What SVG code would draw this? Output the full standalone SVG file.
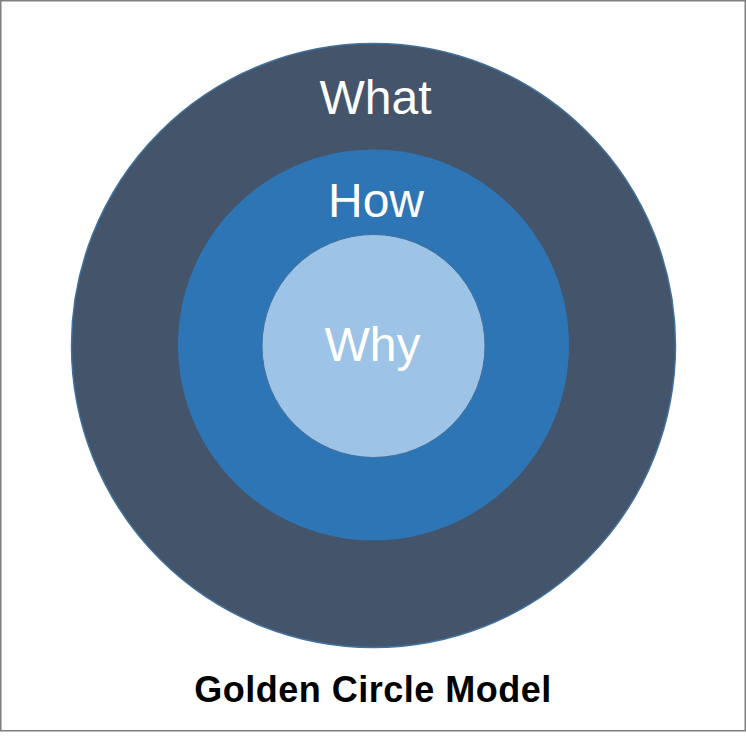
<svg xmlns="http://www.w3.org/2000/svg" width="746" height="736" viewBox="0 0 746 736">
<style>
.lbl{font-family:"Liberation Sans",Arial,sans-serif;font-size:48px;fill:#ffffff;text-anchor:middle}
.title{font-family:"Liberation Sans",Arial,sans-serif;font-size:36px;font-weight:bold;fill:#000000;text-anchor:middle;letter-spacing:0.5px}
</style>
<rect x="0.75" y="0.75" width="744.5" height="730" fill="#ffffff" stroke="#7f7f7f" stroke-width="1.5"/>
<g id="what">
<circle cx="373.5" cy="345.5" r="302" fill="#44546a" stroke="#41719c" stroke-width="1.5"/>
<text class="lbl" x="375.5" y="114">What</text>
</g>
<g id="how">
<circle cx="373.5" cy="345" r="195.5" fill="#2e75b6"/>
<text class="lbl" x="376" y="217">How</text>
</g>
<g id="why">
<circle cx="373.5" cy="346" r="111.5" fill="#9dc3e6" stroke="#41719c" stroke-width="1"/>
<text class="lbl" x="372.5" y="361">Why</text>
</g>
<g id="connectors"/>
<text class="title" x="373" y="702">Golden Circle Model</text>
</svg>
